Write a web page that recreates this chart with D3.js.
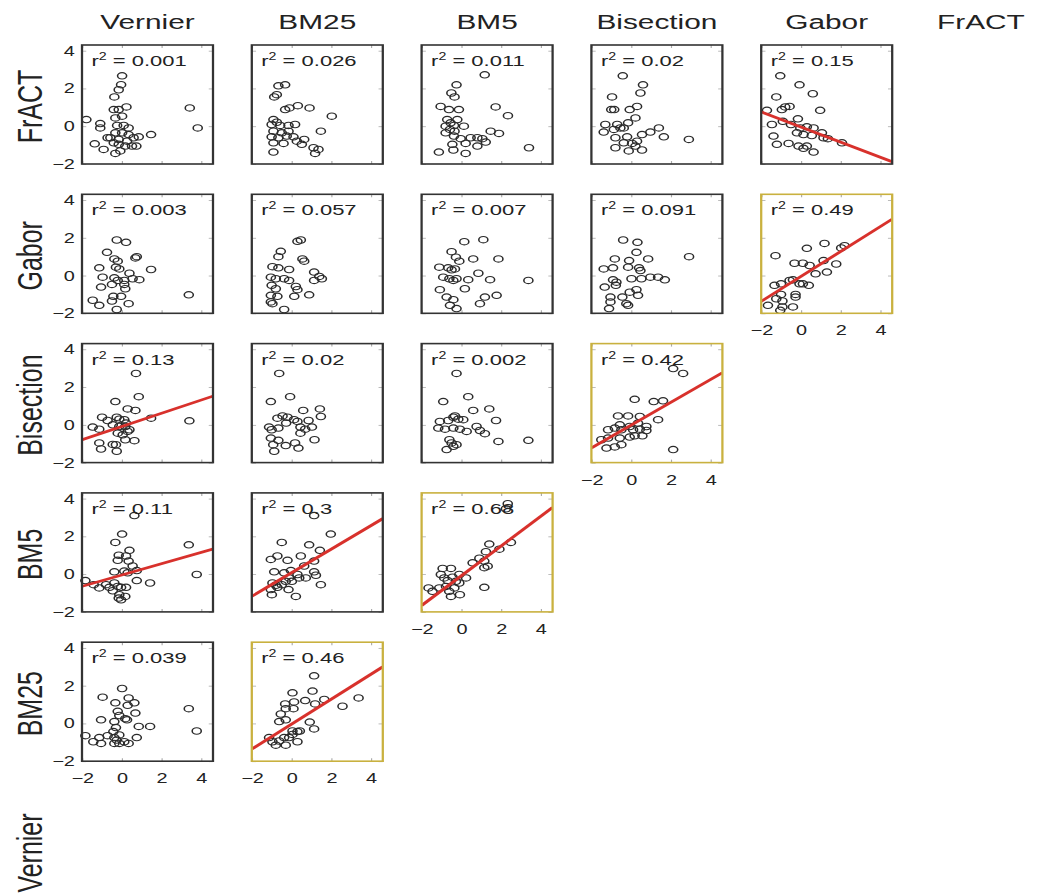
<!DOCTYPE html>
<html>
<head>
<meta charset="utf-8">
<script src="https://cdn.jsdelivr.net/npm/d3@7"></script>
<style>
  body { margin: 0; background: #fff; }
  text { font-family: "Liberation Sans", Arial, sans-serif; fill: #222; }
</style>
</head>
<body>
<script>
// names along the top and down the side
var colNames = ["Vernier", "BM25", "BM5", "Bisection", "Gabor", "FrACT"];
var rowNames = ["FrACT", "Gabor", "Bisection", "BM5", "BM25", "Vernier"];
var xTicks = [-2, 0, 2, 4];
var yTicks = [-2, 0, 2, 4];

// points, [x, y]
var fract_vernier = [[-1.78,0.35],[-1.36,-0.93],[-0.91,-1.23],[-1.08,0.14],[-1.08,-0.09],[-0.71,-0.61],[-0.57,-0.61],
  [0.02,2.67],[-0.03,2.2],[-0.15,1.93],[-0.37,1.55],[-0.4,0.88],[-0.15,0.88],[0.24,1.02],
  [-0.32,0.44],[0.02,0.53],[-0.23,0.04],[0.1,0.04],[0.35,-0.09],[-0.32,-0.35],[0.02,-0.35],
  [0.35,-0.44],[-0.15,-0.7],[0.27,-0.79],[0.6,-0.61],[0.86,-0.56],[0.52,-1.05],[0.74,-1.05],
  [0.18,-1.05],[-0.07,-1.31],[-0.32,-1.44],[-0.15,-0.96],[-0.4,-0.88],[1.48,-0.44],[3.43,0.97],[3.83,-0.09]];
var fract_bm25 = [[-0.66,2.14],[-0.32,2.19],[-0.87,1.55],[-0.74,1.67],[-0.32,0.88],[-0.1,0.97],[0.32,1.09],[0.91,0.97],[2.03,0.53],
  [-0.91,0.35],[-0.74,0.21],[-1.0,0.09],[-0.57,0.04],[-0.15,0.04],[0.18,0.09],
  [-0.91,-0.26],[-0.49,-0.35],[-0.15,-0.26],[-1.0,-0.56],[-0.66,-0.61],[-0.24,-0.52],[0.1,-0.56],
  [-0.91,-0.88],[-0.4,-0.91],[0.27,-0.79],[0.64,-0.7],[-0.91,-1.37],[1.48,-0.26],
  [1.11,-1.14],[1.36,-1.23],[1.19,-1.44],[0.52,-0.96]];
var fract_bm5 = [[1.18,2.72],[-0.24,2.19],[-0.5,1.76],[-0.34,1.55],[-1.04,1.05],[-0.62,0.88],[-0.12,0.88],[1.73,1.02],[2.35,0.56],
  [-0.71,0.35],[-0.54,0.18],[-0.79,0.0],[-0.37,0.04],[-0.2,0.35],[-0.57,-0.17],[-0.34,-0.26],
  [0.13,0.0],[-0.79,-0.35],[-0.37,-0.52],[-0.03,-0.66],[0.47,-0.61],[0.81,-0.61],[1.06,-0.66],
  [1.48,-0.26],[1.9,-0.38],[-0.45,-0.96],[0.22,-0.91],[0.81,-1.05],[1.23,-0.84],
  [-1.13,-1.37],[-0.4,-1.26],[0.22,-1.44],[3.41,-1.14]];
var fract_bisection = [[-0.42,2.67],[0.6,2.19],[0.47,1.76],[-0.96,1.55],[-1.0,0.88],[-0.85,0.88],[-0.07,0.88],[0.3,1.05],[0.22,0.44],[-0.15,0.18],
  [-1.3,0.09],[-0.7,0.09],[-0.54,-0.09],[-1.38,-0.31],[-0.87,-0.17],[-0.37,-0.09],
  [-0.79,-0.61],[-0.2,-0.56],[0.55,-0.44],[0.97,-0.31],[1.4,-0.09],[1.65,-0.56],
  [-0.37,-0.88],[0.05,-0.91],[0.3,-0.79],[-0.79,-1.14],[-0.12,-1.31],[0.55,-1.26],[0.22,-1.05],[2.91,-0.7]];
var fract_gabor = [[-1.04,2.67],[-0.07,2.19],[0.6,1.72],[-1.24,1.55],[-0.96,0.88],[-0.79,1.02],[-0.57,1.05],[0.97,0.84],[-1.71,0.84],
  [-1.46,0.09],[-0.91,0.26],[-0.5,0.09],[-0.15,0.39],[-0.03,-0.09],[0.3,-0.03],[0.64,-0.09],[1.06,-0.35],
  [-0.2,-0.35],[0.13,-0.44],[0.55,-0.49],[1.14,-0.61],[1.36,-0.66],[-1.38,-0.52],[-1.21,-0.96],[-0.62,-0.91],
  [-0.12,-1.05],[0.13,-1.17],[0.3,-1.05],[0.64,-1.37],[2.07,-0.88]];

var gabor_vernier = [[-0.25,1.88],[0.22,1.76],[-0.74,1.23],[-0.37,0.88],[-0.2,0.76],[-0.29,0.44],[-0.12,0.35],[0.69,0.93],[0.76,1.0],
  [-1.13,0.41],[1.48,0.32],[-0.96,-0.09],[-0.37,-0.12],[-0.2,-0.26],[0.13,-0.26],[0.39,0.12],[0.55,-0.17],[0.89,-0.22],
  [-1.04,-0.61],[-0.49,-0.47],[0.18,-0.7],[0.13,-0.47],[-0.42,-1.1],[-0.03,-1.1],[-0.49,-1.35],[0.35,-1.49],
  [-1.46,-1.31],[-1.13,-1.58],[-0.25,-1.8],[3.38,-1.02]];
var gabor_bm25 = [[0.3,1.81],[0.47,1.88],[-0.54,1.28],[-0.66,1.0],[0.55,0.88],[0.64,0.76],[-0.96,0.47],[-0.66,0.41],[-0.12,0.32],
  [-1.04,-0.09],[-0.79,-0.17],[-0.37,-0.17],[-0.12,-0.26],[1.14,0.18],[1.4,-0.05],[1.53,-0.17],[1.14,-0.26],
  [-1.0,-0.52],[-0.79,-0.7],[0.22,-0.58],[0.3,-0.75],[-1.04,-1.05],[-0.71,-1.1],[0.14,-1.1],[0.89,-1.02],
  [-1.04,-1.4],[-0.96,-1.49],[-0.37,-1.8]];
var gabor_bm5 = [[0.15,1.79],[1.11,1.9],[-0.49,1.26],[-0.27,0.97],[-0.1,0.76],[0.6,0.88],[1.87,0.88],
  [-1.11,0.44],[-0.66,0.41],[-0.49,0.3],[-0.32,0.35],[-0.91,-0.09],[-0.6,-0.17],[-0.4,-0.26],[-0.24,-0.17],
  [0.35,-0.22],[0.86,0.12],[1.45,-0.22],[3.38,-0.26],[-1.08,-0.75],[-0.74,-1.14],[-0.4,-1.28],[0.18,-0.7],
  [-0.57,-1.58],[-0.24,-1.75],[0.94,-1.49],[1.19,-1.14],[1.78,-1.05]];
var gabor_bisection = [[-0.4,1.88],[0.32,1.76],[0.27,1.23],[-0.82,0.88],[-0.1,0.79],[0.86,0.88],[2.92,1.0],
  [-1.38,0.35],[-0.91,0.41],[-0.15,0.44],[0.4,0.41],[0.47,0.26],
  [-0.91,-0.23],[-0.74,-0.35],[0.02,-0.17],[0.52,-0.17],[0.97,-0.09],[1.36,-0.09],[1.7,-0.23],
  [-1.33,-0.61],[-0.77,-0.52],[-0.44,-1.14],[-0.07,-0.88],[0.27,-0.75],[0.35,-1.05],
  [-1.04,-1.14],[-1.04,-1.4],[-0.24,-1.49],[-0.15,-1.58],[-1.11,-1.75]];
var gabor_gabor = [[-1.28,1.05],[0.3,1.44],[1.19,1.7],[2.03,1.46],[2.2,1.58],
  [-0.32,0.65],[0.1,0.65],[0.44,0.53],[1.14,0.79],[1.78,0.61],[0.74,0.09],[1.31,0.18],
  [-1.33,-0.52],[-1.0,-0.44],[-0.57,-0.26],[-0.4,-0.23],[-0.07,-0.44],[0.1,-0.44],[0.4,-0.52],
  [-1.0,-1.0],[-0.27,-1.0],[-0.27,-1.14],[-1.24,-1.23],[-0.93,-1.35],[-0.93,-1.66],[-1.66,-1.58],[-0.4,-1.66],[-1.04,-1.84]];

var bisection_vernier = [[0.72,2.72],[-0.32,1.23],[0.86,1.49],[0.3,0.84],[0.69,0.76],
  [-0.99,0.4],[-0.71,0.23],[-0.25,0.4],[-0.12,0.3],[0.13,0.27],[0.22,0.09],[1.48,0.35],[3.41,0.21],
  [-1.46,-0.12],[-1.13,-0.23],[-0.45,0.0],[-0.12,-0.09],[0.18,-0.09],[0.39,-0.26],
  [-0.2,-0.44],[0.05,-0.53],[0.3,-0.35],[-1.13,-0.96],[-0.45,-1.04],[-0.29,-1.05],[0.18,-0.79],[0.64,-0.84],
  [-1.04,-1.28],[-0.25,-1.4]];
var bisection_bm25 = [[-0.62,2.72],[-1.04,1.23],[-0.07,1.49],[0.59,0.76],[1.43,0.84],[1.48,0.44],
  [-0.71,0.35],[-0.45,0.47],[-0.2,0.4],[0.13,0.27],[0.3,0.18],
  [-1.13,-0.12],[-1.0,-0.26],[-0.66,-0.17],[-0.27,0.09],[0.45,-0.12],[0.86,0.23],[1.03,-0.12],[0.69,-0.23],[0.45,-0.44],[1.16,-0.79],
  [-1.04,-0.7],[-0.66,-0.82],[-0.29,-1.1],[0.18,-0.96],[0.35,-1.23],[-0.92,-1.05],[-0.87,-1.4]];
var bisection_bm5 = [[-0.24,2.72],[-0.91,1.23],[0.35,1.49],[0.6,0.76],[1.41,0.84],[1.75,0.23],
  [-1.08,0.18],[-0.66,0.23],[-0.4,0.4],[-0.15,0.3],[0.1,0.27],[-0.32,0.47],
  [-1.16,-0.17],[-0.82,-0.23],[-0.4,-0.17],[-0.07,-0.23],[0.27,-0.35],[0.77,-0.09],[0.94,-0.3],[1.19,-0.47],
  [-0.6,-0.79],[-0.49,-0.96],[-0.24,-1.05],[-0.74,-1.31],[-0.4,-1.14],[1.87,-0.88],[3.38,-0.82]];
var bisection_bisection = [[2.12,2.98],[2.62,2.72],[0.18,1.35],[1.14,1.23],[1.61,1.27],
  [-0.66,0.47],[-0.15,0.47],[0.44,0.44],[-0.57,0.0],[-0.07,-0.09],[0.35,0.09],[0.77,-0.09],[1.36,0.27],
  [-1.16,-0.26],[-0.82,-0.17],[-0.49,-0.26],[0.1,-0.26],[0.44,-0.23],[0.77,-0.3],
  [-1.5,-0.79],[-1.16,-0.7],[-0.57,-0.7],[-0.07,-0.65],[0.18,-0.58],[0.57,-0.58],
  [-1.24,-1.23],[-0.82,-1.17],[-0.49,-1.05],[2.12,-1.31]];

var bm5_vernier = [[0.64,3.1],[0.02,2.12],[-0.32,1.68],[3.38,1.55],[-0.15,1.0],[0.39,1.26],[-0.2,0.73],[0.35,0.69],[0.22,0.96],[0.55,0.43],[0.76,0.19],
  [-0.37,0.12],[0.13,0.16],[0.3,0.07],[-1.83,-0.34],[-1.41,-0.56],[-1.13,-0.73],[-0.79,-0.56],[-0.62,-0.7],
  [-0.37,-0.47],[-0.2,-0.65],[-0.03,-0.7],[0.22,-0.7],[-0.45,-0.88],[-0.12,-1.09],[0.18,-1.18],[-0.15,-1.27],[-0.03,-1.36],
  [0.76,-0.34],[1.43,-0.47],[3.78,-0.02]];
var bm5_bm25 = [[1.14,3.1],[1.98,2.12],[-0.49,1.68],[0.89,1.55],[1.43,1.26],
  [-1.04,0.78],[-0.71,0.96],[-0.2,0.73],[0.47,0.96],[1.14,0.69],
  [-0.87,0.12],[-0.37,0.07],[-0.03,0.19],[0.3,-0.02],[0.64,0.43],[1.14,0.12],
  [-0.96,-0.47],[-0.79,-0.59],[-0.49,-0.56],[-0.29,-0.38],[0.02,-0.38],[0.39,-0.2],[0.72,-0.2],[1.48,-0.56],
  [-1.04,-0.82],[-0.99,-1.09],[-0.71,-0.7],[-0.15,-0.82],[0.22,-1.18],[-0.12,-0.2],[1.23,-0.06]];
var bm5_bm5 = [[2.34,3.73],[2.25,3.46],[1.41,1.59],[1.24,1.19],[1.92,1.32],[2.5,1.68],
  [0.57,0.6],[0.91,0.84],[1.16,0.69],[1.33,0.42],[1.16,0.34],
  [-0.94,0.3],[-0.52,0.3],[-0.1,-0.02],[0.24,-0.2],
  [-1.03,-0.02],[-0.86,-0.2],[-0.69,-0.34],[-0.44,-0.16],[-0.27,-0.38],[-0.1,-0.47],
  [-1.65,-0.73],[-1.45,-0.91],[-1.11,-0.73],[-0.77,-0.65],[-0.61,-0.91],[-0.35,-0.73],[-0.07,-1.09],[-0.52,-1.18],
  [1.16,-0.7]];

var bm25_vernier = [[0.02,1.85],[-0.96,1.39],[0.35,1.35],[0.64,1.09],[-0.32,1.09],[0.3,0.96],
  [-0.2,0.64],[-0.12,0.42],[0.69,0.55],[0.18,0.25],[0.27,0.19],
  [-1.04,0.19],[-0.37,0.1],[0.86,-0.16],[1.43,-0.16],
  [-1.83,-0.65],[-1.43,-0.97],[-1.13,-0.75],[-1.04,-1.06],[-0.71,-0.65],[-0.42,-0.43],[-0.29,-0.22],
  [-0.37,-0.75],[-0.25,-0.88],[-0.12,-0.61],[-0.37,-1.06],[-0.12,-1.06],[0.13,-0.97],[0.35,-1.06],[0.76,-0.75],
  [3.38,0.78],[3.78,-0.4]];
var bm25_bm25 = [[1.14,2.52],[0.05,1.62],[1.06,1.71],
  [-0.32,1.03],[-0.29,0.78],[0.13,1.14],[0.69,1.21],[1.19,1.03],[1.65,1.27],[2.57,0.91],[3.38,1.35],
  [-0.54,0.5],[0.1,0.78],[-0.62,0.1],[-0.29,0.19],[0.92,0.07],[1.14,-0.29],[0.05,-0.4],[0.3,-0.43],[0.42,-0.4],
  [-1.13,-0.75],[-0.96,-0.97],[-0.79,-1.15],[-0.62,-0.93],[-0.37,-0.75],[-0.12,-0.75],[-0.29,-1.15],[0.05,-0.58],[0.3,-0.97]];

var pointRows = [
  [fract_vernier, fract_bm25, fract_bm5, fract_bisection, fract_gabor],
  [gabor_vernier, gabor_bm25, gabor_bm5, gabor_bisection, gabor_gabor],
  [bisection_vernier, bisection_bm25, bisection_bm5, bisection_bisection],
  [bm5_vernier, bm5_bm25, bm5_bm5],
  [bm25_vernier, bm25_bm25]
];
var r2Rows = [
  [0.001, 0.026, 0.011, 0.02, 0.15],
  [0.003, 0.057, 0.007, 0.091, 0.49],
  [0.13, 0.02, 0.002, 0.42],
  [0.11, 0.3, 0.68],
  [0.039, 0.46]
];
// fitted lines, y = intercept + slope * x
var fitLines = [
  {row: 0, col: 4, intercept: -0.04, slope: -0.40},
  {row: 1, col: 4, intercept: -0.05, slope: 0.66},
  {row: 2, col: 0, intercept: -0.09, slope: 0.35},
  {row: 2, col: 3, intercept: -0.02, slope: 0.605},
  {row: 3, col: 0, intercept: -0.05, slope: 0.30},
  {row: 3, col: 1, intercept: 0.07, slope: 0.624},
  {row: 3, col: 2, intercept: -0.09, slope: 0.787},
  {row: 4, col: 1, intercept: -0.04, slope: 0.66}
];
var highlighted = [[1, 4], [2, 3], [3, 2], [4, 1]];
var xLabelled = [[1, 4], [2, 3], [3, 2], [4, 0], [4, 1]];

// the original is stretched sideways, so draw narrow and stretch the svg
var W = 1042, H = 894, SX = 1.42;
var colLeft = function(j) { return (82 + j * 169.8) / SX; };
var rowTop = function(i) { return 45 + i * 149.3; };
var boxW = 131 / SX, boxH = 119;
var tickFmt = d3.format("d");

var svg = d3.select("body").append("svg")
  .attr("width", W).attr("height", H)
  .attr("viewBox", "0 0 " + (W / SX) + " " + H)
  .attr("preserveAspectRatio", "none");

var x = d3.scaleLinear().domain([-2, 4.6]).range([0, boxW]);
var y = d3.scaleLinear().domain([-2, 4.3]).range([boxH, 0]);

var has = function(list, i, j) {
  return list.some(function(p) { return p[0] === i && p[1] === j; });
};

// column headers
svg.selectAll(".colname").data(colNames).enter().append("text")
  .attr("class", "colname")
  .attr("x", function(d, j) { return colLeft(j) + boxW / 2 - (j === 5 ? 11 : 0); })
  .attr("y", 29)
  .attr("text-anchor", "middle")
  .attr("font-size", 21)
  .text(function(d) { return d; });

// row labels
svg.selectAll(".rowname").data(rowNames).enter().append("text")
  .attr("class", "rowname")
  .attr("transform", function(d, i) { return "translate(" + (42 / SX) + "," + (rowTop(i) + boxH / 2 + 2) + ") rotate(-90)"; })
  .attr("text-anchor", "middle")
  .attr("font-size", 25)
  .text(function(d) { return d; });

pointRows.forEach(function(row, i) {
  row.forEach(function(pts, j) {
    var g = svg.append("g").attr("transform", "translate(" + colLeft(j) + "," + rowTop(i) + ")");
    var hl = has(highlighted, i, j);

    // little inside ticks, matlab style
    var tickAxes = [
      [d3.axisBottom(x).tickValues(xTicks), "translate(0," + boxH + ")"],
      [d3.axisTop(x).tickValues(xTicks), "translate(0,0)"],
      [d3.axisLeft(y).tickValues(yTicks), "translate(0,0)"],
      [d3.axisRight(y).tickValues(yTicks), "translate(" + boxW + ",0)"]
    ];
    tickAxes.forEach(function(a) {
      var ax = g.append("g").attr("transform", a[1])
        .call(a[0].tickSize(-3).tickFormat(""));
      ax.select(".domain").remove();
      ax.selectAll("line").attr("stroke", "#aaa").attr("stroke-width", 0.8);
    });

    if (j === 0) {
      var yl = g.append("g").call(d3.axisLeft(y).tickValues(yTicks).tickFormat(tickFmt).tickSize(0).tickPadding(5));
      yl.select(".domain").remove();
      yl.selectAll("text").attr("font-size", 14).attr("fill", "#333")
        .style("font-family", "'Liberation Sans', Arial, sans-serif");
    }
    if (has(xLabelled, i, j)) {
      var xl = g.append("g").attr("transform", "translate(0," + boxH + ")")
        .call(d3.axisBottom(x).tickValues(xTicks).tickFormat(tickFmt).tickSize(0).tickPadding(12));
      xl.select(".domain").remove();
      xl.selectAll("text").attr("font-size", 14).attr("fill", "#333")
        .style("font-family", "'Liberation Sans', Arial, sans-serif");
    }

    var clipId = "clip" + i + "_" + j;
    g.append("clipPath").attr("id", clipId)
      .append("rect").attr("width", boxW).attr("height", boxH);

    g.selectAll("circle").data(pts).enter().append("circle")
      .attr("cx", function(d) { return x(d[0]); })
      .attr("cy", function(d) { return y(d[1]); })
      .attr("r", 3.2)
      .attr("fill", "none")
      .attr("stroke", "#2b2b2b")
      .attr("stroke-width", 1.1);

    fitLines.filter(function(f) { return f.row === i && f.col === j; }).forEach(function(f) {
      var xs = x.domain();
      g.append("line")
        .attr("clip-path", "url(#" + clipId + ")")
        .attr("x1", x(xs[0])).attr("y1", y(f.intercept + f.slope * xs[0]))
        .attr("x2", x(xs[1])).attr("y2", y(f.intercept + f.slope * xs[1]))
        .attr("stroke", "#d8312c")
        .attr("stroke-width", 2.6);
    });

    g.append("rect")
      .attr("width", boxW).attr("height", boxH)
      .attr("fill", "none")
      .attr("stroke", hl ? "#c9b13f" : "#333")
      .attr("stroke-width", 1.6);

    var t = g.append("text")
      .attr("x", 9.5 / SX).attr("y", 21)
      .attr("font-size", 15.5);
    t.append("tspan").text("r");
    t.append("tspan").attr("dy", -6).attr("font-size", 10).text("2");
    t.append("tspan").attr("dy", 6).text("\u00A0=\u00A0" + r2Rows[i][j]);
  });
});
</script>
</body>
</html>
